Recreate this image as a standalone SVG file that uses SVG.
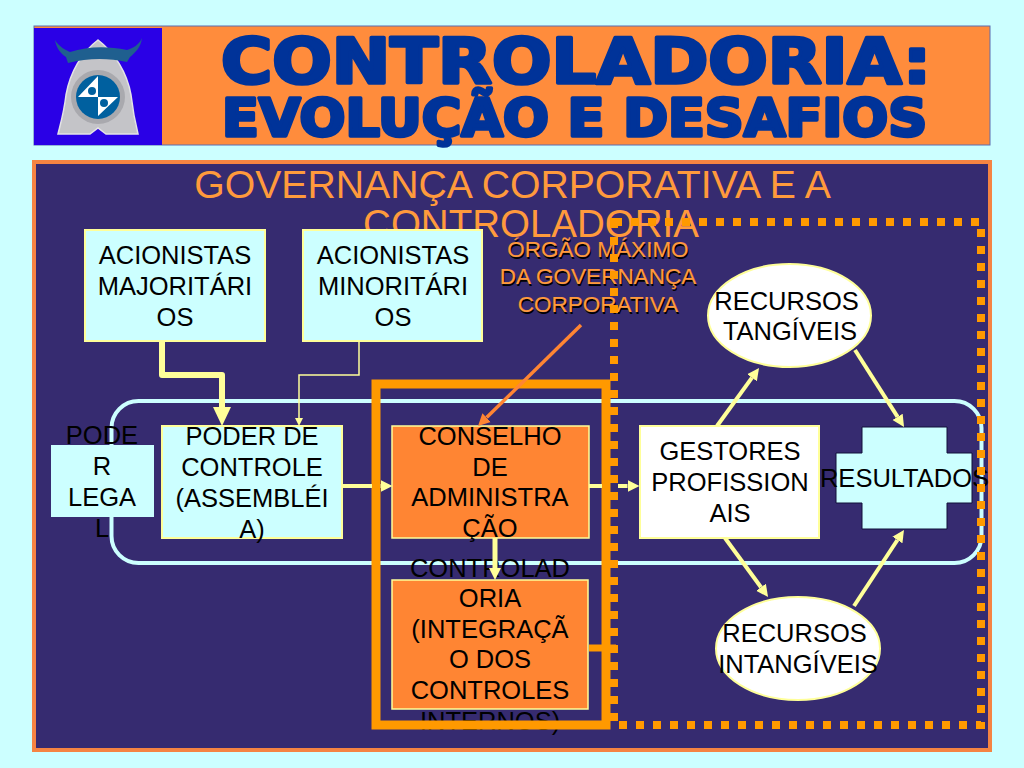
<svg xmlns="http://www.w3.org/2000/svg" width="1024" height="768" viewBox="0 0 1024 768">
<style>
text{font-family:"Liberation Sans",Arial,sans-serif;fill:#000;font-size:25.5px;text-anchor:middle}
.ttl{font-family:"DejaVu Sans",sans-serif;font-weight:bold;fill:#003399;stroke:#003399;stroke-width:3.5px;stroke-linejoin:round;text-anchor:start}
.t1{font-size:63px}
.t2{font-size:51px}
.hd{fill:#FF9A3C;font-size:38.5px}
.hd1{font-size:39.2px}
.org{fill:#FF9A3C;font-size:22.5px;stroke:#FF9A3C;stroke-width:.2px}
.shd{fill:#000;font-size:22.5px}
.box{fill:#CCFFFF;stroke:#FFFF99;stroke-width:2}
.oran{fill:#FF8533;stroke:#FFFF99;stroke-width:1.5}
.wht{fill:#fff;stroke:#FFFF99;stroke-width:2}
.conn{fill:none;stroke:#FFFF99}
</style>
<defs>
<marker id="hL" markerUnits="userSpaceOnUse" markerWidth="20" markerHeight="20" refX="0" refY="10" orient="auto"><path d="M0,1 L19,10 L0,19Z" fill="#FFFF99"/></marker>
<marker id="hM" markerUnits="userSpaceOnUse" markerWidth="14" markerHeight="14" refX="0" refY="7" orient="auto"><path d="M0,1 L12,7 L0,13Z" fill="#FFFF99"/></marker>
<marker id="hS" markerUnits="userSpaceOnUse" markerWidth="10" markerHeight="10" refX="0" refY="5" orient="auto"><path d="M0,1 L8,5 L0,9Z" fill="#FFFF99"/></marker>
<marker id="hO" markerUnits="userSpaceOnUse" markerWidth="14" markerHeight="14" refX="0" refY="7" orient="auto"><path d="M0,1 L12,7 L0,13Z" fill="#FF8533"/></marker>
</defs>
<rect width="1024" height="768" fill="#CCFFFF"/>

<g id="banner">
<rect x="34" y="26" width="956" height="119" fill="#FF8C3C" stroke="#5A6DB0" stroke-width="1"/>
<rect x="34" y="28" width="128" height="117" fill="#2A00E6"/>
<path d="M98,40 C82,52 70,72 66,95 C64,112 61,122 58,134 L90,134 L98,128 L106,134 L138,134 C135,122 133,112 131,95 C127,72 114,52 98,40Z" fill="#C4C4C8" stroke="#E4E4E6" stroke-width="1.5"/>
<path d="M55,40 C59,47 66,50 70,52 C88,46 108,46 127,50 C133,48 139,45 142,38 C141,47 135,53 130,57 L127,62 C108,58 88,58 68,63 L66,57 C60,53 56,47 55,40Z" fill="#1F5F8F"/>
<circle cx="98" cy="97" r="27" fill="#A9A9AE"/>
<circle cx="98" cy="97" r="22" fill="#00609F"/>
<path d="M98,76 L98,97 L78,97 Z M98,97 L118,97 L98,116 Z" fill="#fff"/>
<circle cx="92" cy="91" r="4" fill="#00609F"/><circle cx="104" cy="103" r="4" fill="#00609F"/>
<text class="ttl t1" x="221" y="83" textLength="710" lengthAdjust="spacingAndGlyphs">CONTROLADORIA:</text>
<text class="ttl t2" x="222" y="136" textLength="705" lengthAdjust="spacingAndGlyphs">EVOLUÇÃO E DESAFIOS</text>
</g>

<rect id="panel" x="34" y="162" width="956" height="588" fill="#362B70" stroke="#F58442" stroke-width="4"/>

<rect id="faixa" x="111.500" y="401" width="870" height="162" rx="27" fill="none" stroke="#CCFFFF" stroke-width="4"/>

<g id="titulo">
<text class="hd hd1" x="512.500" y="198">GOVERNANÇA CORPORATIVA E A</text>
<text class="hd" x="531" y="237">CONTROLADORIA</text>
</g>

<g id="orgao">
<text class="shd" x="599" y="258.500">ÓRGÃO MÁXIMO</text>
<text class="shd" x="599" y="285.500">DA GOVERNANÇA</text>
<text class="shd" x="599" y="313.500">CORPORATIVA</text>
<text class="org" x="598" y="257">ÓRGÃO MÁXIMO</text>
<text class="org" x="598" y="284">DA GOVERNANÇA</text>
<text class="org" x="598" y="312">CORPORATIVA</text>
</g>

<g id="acionistas-majoritarios">
<rect class="box" x="85" y="230" width="180" height="111"/>
<text x="175" y="264">ACIONISTAS</text><text x="175" y="295">MAJORITÁRI</text><text x="175" y="326">OS</text>
</g>
<g id="acionistas-minoritarios">
<rect class="box" x="303" y="230" width="179" height="111"/>
<text x="393" y="264">ACIONISTAS</text><text x="393" y="295">MINORITÁRI</text><text x="393" y="326">OS</text>
</g>
<g id="poder-legal">
<rect x="51" y="445" width="103" height="72" fill="#CCFFFF"/>
<text x="102" y="444">PODE</text><text x="102" y="475">R</text><text x="102" y="506">LEGA</text><text x="102" y="537">L</text>
</g>
<g id="poder-controle">
<rect class="box" x="162" y="426" width="180" height="112"/>
<text x="252" y="445">PODER DE</text><text x="252" y="476">CONTROLE</text><text x="252" y="507">(ASSEMBLÉI</text><text x="252" y="538">A)</text>
</g>
<g id="conselho">
<rect class="oran" x="392" y="426" width="197" height="112"/>
<text x="490" y="445">CONSELHO</text><text x="490" y="476">DE</text><text x="490" y="506">ADMINISTRA</text><text x="490" y="537">ÇÃO</text>
</g>
<g id="controladoria">
<rect class="oran" x="392" y="580" width="196" height="129"/>
<text x="490" y="577">CONTROLAD</text><text x="490" y="607">ORIA</text><text x="490" y="638">(INTEGRAÇÃ</text><text x="490" y="668">O DOS</text><text x="490" y="699">CONTROLES</text><text x="490" y="730">INTERNOS)</text>
</g>
<g id="gestores">
<rect class="wht" x="640" y="426" width="179" height="112"/>
<text x="730" y="460">GESTORES</text><text x="730" y="491">PROFISSION</text><text x="730" y="522">AIS</text>
</g>
<g id="recursos-tangiveis">
<ellipse class="wht" cx="789.500" cy="315.500" rx="81.500" ry="51.500"/>
<text x="786.500" y="310">RECURSOS</text><text x="790" y="340">TANGÍVEIS</text>
</g>
<g id="recursos-intangiveis">
<ellipse class="wht" cx="798" cy="648.500" rx="82" ry="51.500"/>
<text x="794.500" y="642">RECURSOS</text><text x="798" y="673">INTANGÍVEIS</text>
</g>
<g id="resultados">
<path d="M862,427 H947 V453 H972 V503 H947 V529 H862 V503 H836 V453 H862Z" fill="#CCFFFF" stroke="#10103a" stroke-width="1"/>
<text x="904.500" y="487">RESULTADOS</text>
</g>

<g id="molduras" fill="none" stroke="#FF9900">
<rect id="moldura-gestao" x="614" y="222" width="367" height="503" stroke-width="8" stroke-dasharray="8 9"/>
<rect id="moldura-conselho" x="376" y="384" width="230" height="341" stroke-width="9"/>
</g>

<g id="connectors">
<path class="conn" stroke-width="6" stroke-linejoin="round" d="M162,341 V375 H222 V407" marker-end="url(#hL)"/>
<path class="conn" stroke-width="1.500" d="M359,341 V375 H299 V418" marker-end="url(#hS)"/>
<path class="conn" stroke-width="4" d="M342,486 H372 M380,486 H380.500" marker-end="url(#hM)"/>
<path class="conn" stroke-width="4" d="M589,486 H602 M618,486 H627.500" marker-end="url(#hM)"/>
<path class="conn" stroke-width="5" d="M495,538 V568" marker-end="url(#hM)"/>
<path class="conn" stroke-width="4" d="M717,426 L752,377.700" marker-end="url(#hM)"/>
<path class="conn" stroke-width="4" d="M855,350 L897.600,416.900" marker-end="url(#hM)"/>
<path class="conn" stroke-width="4" d="M725,538 L761,587.300" marker-end="url(#hM)"/>
<path class="conn" stroke-width="4" d="M854,606 L897.400,540" marker-end="url(#hM)"/>
<path fill="none" stroke="#FF8533" stroke-width="3.500" d="M581,325 L486.600,417.600" marker-end="url(#hO)"/>
<path fill="none" stroke="#FF9900" stroke-width="7" d="M589,648 H616"/>
</g>
</svg>
